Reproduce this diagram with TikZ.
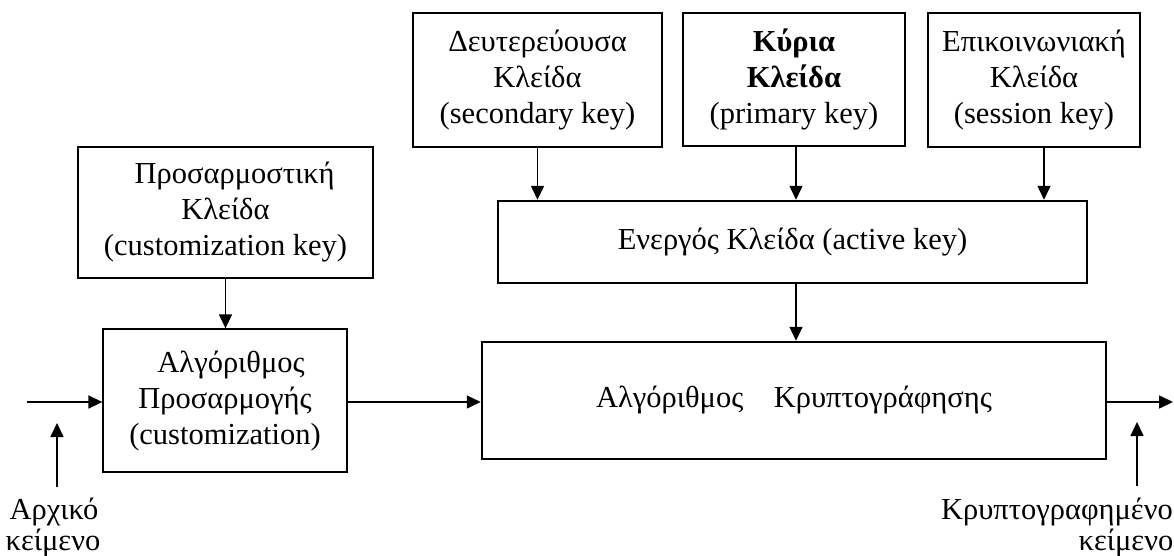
\documentclass[tikz,border=0pt]{standalone}
\usepackage{fontspec}
\setmainfont{Liberation Serif}
\usetikzlibrary{arrows.meta}
\begin{document}
\begin{tikzpicture}[x=1pt,y=-1pt,
  box/.style={draw, line width=1.3pt, inner sep=0pt, align=center,
    font=\fontsize{30.5}{36}\selectfont},
  thickbox/.style={box, line width=2.5pt},
  arr/.style={line width=1.6pt, -{Triangle[length=14pt,width=13pt]}},
  lbl/.style={inner sep=0pt, anchor=base, font=\fontsize{30.5}{36}\selectfont}]
\useasboundingbox (0,0) rectangle (1174,556);
% boxes
\node[box, minimum width=295pt, minimum height=131pt] (ckey) at (225.5,212.5)
  {\hspace*{0.6em}Προσαρμοστική\\Κλείδα\\(customization key)};
\node[box, minimum width=244pt, minimum height=143pt] (calg) at (225,400.5)
  {\hspace*{0.4em}Αλγόριθμος\\Προσαρμογής\\(customization)};
\node[box, minimum width=249pt, minimum height=134pt] (sec) at (537.5,80)
  {Δευτερεύουσα\\Κλείδα\\(secondary key)};
\node[thickbox, minimum width=222pt, minimum height=133pt] (pri) at (794,79.5)
  {\textbf{Κύρια}\\\textbf{Κλείδα}\\(primary key)};
\node[box, minimum width=212pt, minimum height=134pt] (ses) at (1034,80)
  {Επικοινωνιακή\\Κλείδα\\(session key)};
\node[thickbox, minimum width=589pt, minimum height=82pt] (act) at (792.5,242)
  {Ενεργός Κλείδα (active key)};
\node[thickbox, minimum width=624pt, minimum height=117pt] (enc) at (794,400.5)
  {Αλγόριθμος\hspace{0.75em} Κρυπτογράφησης};
% labels
\node[lbl] (in1) at (54,519) {Αρχικό};
\node[lbl] (in2) at (53,550) {κείμενο};
\node[lbl, anchor=base east] (out1) at (1173,519) {Κρυπτογραφημένο};
\node[lbl] (out2) at (1126,550) {κείμενο};
% coordinates
\coordinate (inL) at (27,402);
\coordinate (outR) at (1173,402);
\coordinate (upA1) at (57,487);
\coordinate (upA2) at (57,423);
\coordinate (upB1) at (1137,486);
\coordinate (upB2) at (1137,422);
% connectors
\draw[arr] (ckey.south) -- (ckey.south |- calg.north);
\draw[arr] (sec.south) -- (sec.south |- act.north);
\draw[arr] ([xshift=2pt]pri.south) -- ([xshift=2pt]pri.south |- act.north);
\draw[arr] ([xshift=10pt]ses.south) -- ([xshift=10pt]ses.south |- act.north);
\draw[arr] ([xshift=3.5pt]act.south) -- ([xshift=3.5pt]act.south |- enc.north);
\draw[arr] (inL) -- (inL -| calg.west);
\draw[arr] (calg.east |- inL) -- (enc.west |- inL);
\draw[arr] (enc.east |- outR) -- (outR);
\draw[arr] (upA1) -- (upA2);
\draw[arr] (upB1) -- (upB2);
\end{tikzpicture}
\end{document}
